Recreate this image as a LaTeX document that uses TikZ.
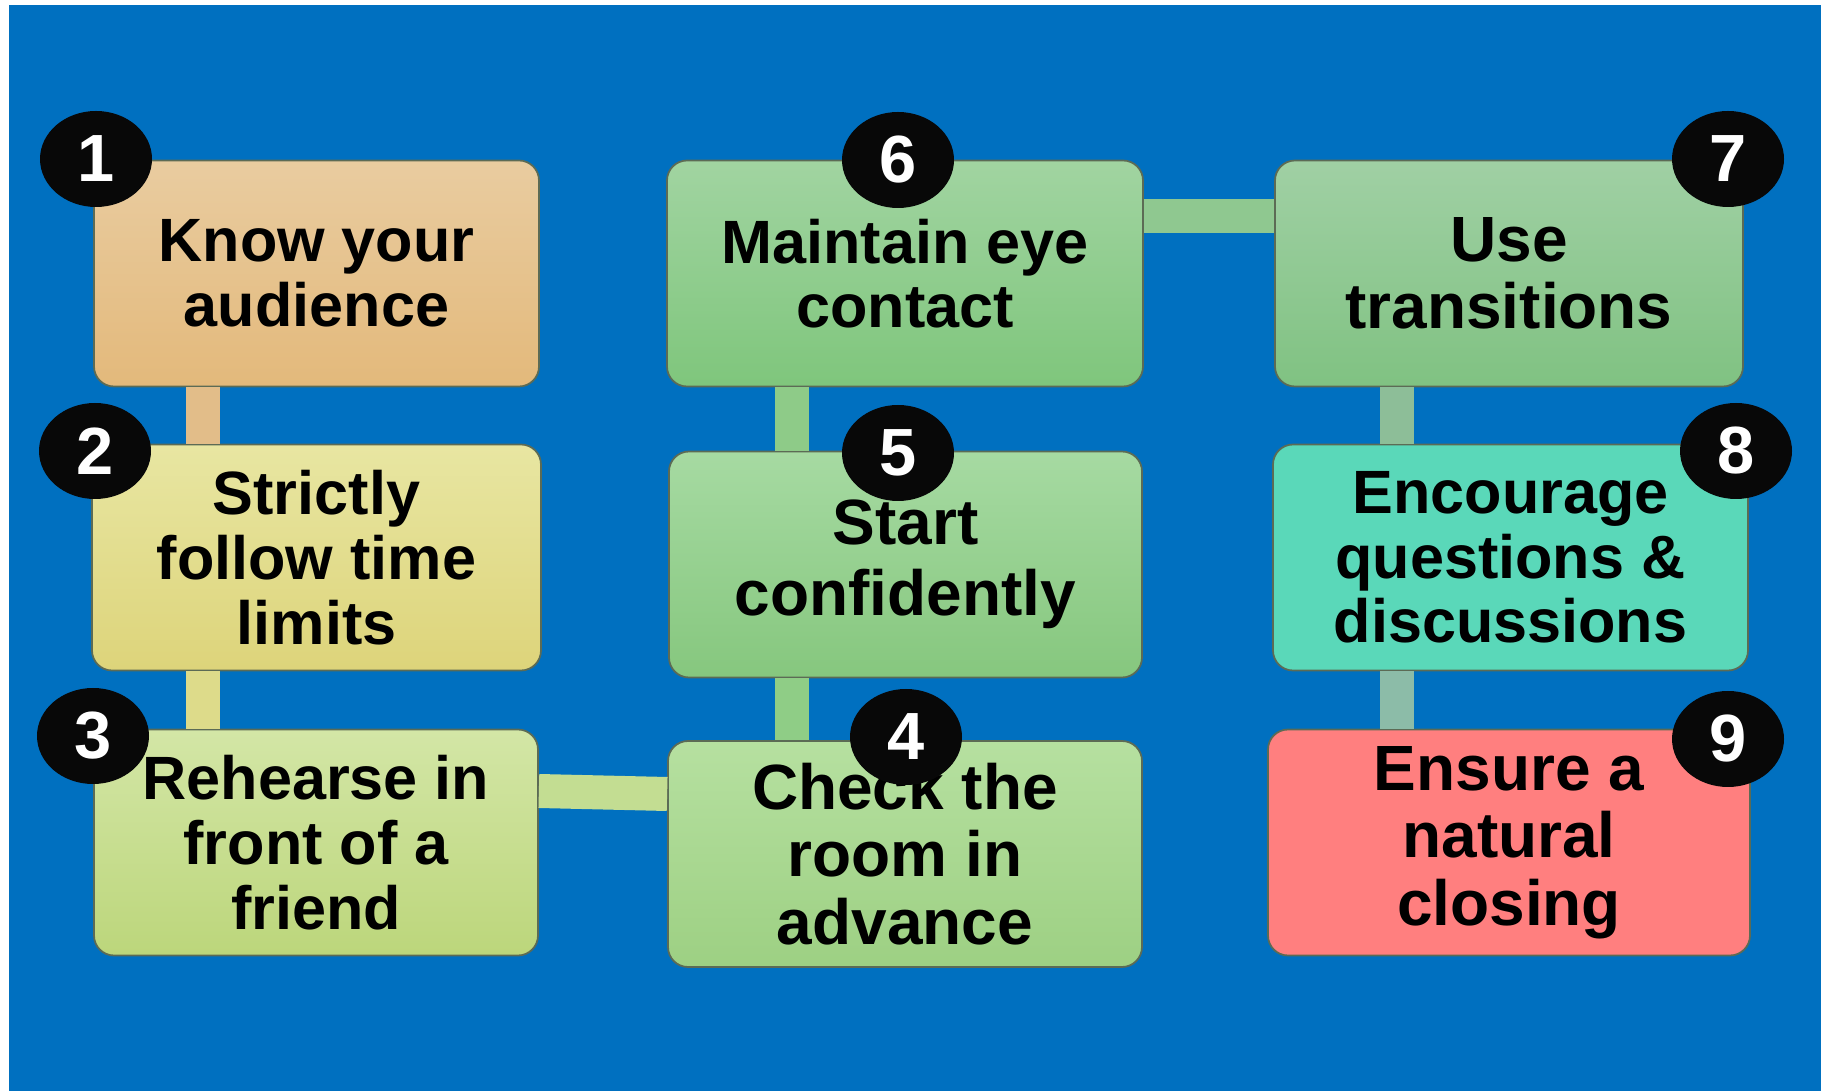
\documentclass[tikz,border=0pt]{standalone}
\usepackage{fontspec}
\setmainfont{Liberation Sans}
\usetikzlibrary{shapes.geometric, calc}
\definecolor{slidebg}{HTML}{0070C0}
\definecolor{badgecol}{HTML}{080808}
\definecolor{edgecol}{HTML}{5C6B55}
\definecolor{onetop}{HTML}{E9CCA0}
\definecolor{onebot}{HTML}{E3B97B}
\definecolor{twotop}{HTML}{E8E6A2}
\definecolor{twobot}{HTML}{DDD47A}
\definecolor{threetop}{HTML}{D3E6A6}
\definecolor{threebot}{HTML}{BCD67B}
\definecolor{fourtop}{HTML}{B6E0A0}
\definecolor{fourbot}{HTML}{9DD083}
\definecolor{fivetop}{HTML}{A6DAA2}
\definecolor{fivebot}{HTML}{86C77E}
\definecolor{sixtop}{HTML}{A1D4A1}
\definecolor{sixbot}{HTML}{7FC67C}
\definecolor{seventop}{HTML}{A0D0A4}
\definecolor{sevenbot}{HTML}{80C282}
\definecolor{eightcol}{HTML}{5AD8B9}
\definecolor{ninecol}{HTML}{FF7F7F}
\tikzset{
  tipbox/.style={rounded corners=0.2cm, draw=edgecol, line width=0.5pt,
    align=center, inner sep=0pt, minimum height=2.26cm,
    font=\fontsize{17.4}{18.4}\selectfont\bfseries},
  bigtext/.style={font=\fontsize{18.2}{19.2}\selectfont\bfseries},
  numbadge/.style={ellipse, fill=badgecol, minimum width=1.12cm,
    minimum height=0.96cm, inner sep=0pt, text=white,
    font=\fontsize{19}{19}\selectfont\bfseries},
  link/.style={line width=0.34cm}
}

\begin{document}
\begin{tikzpicture}

\useasboundingbox (0,0) rectangle (18.21,10.91);
\fill[white] (0,0) rectangle (18.21,10.91);
\fill[slidebg] (0.09,0) rectangle (18.21,10.86);

% Left column
\node[tipbox, minimum width=4.45cm, top color=onetop, bottom color=onebot]
  (tip1) at (3.165,8.175) {Know your\\audience};
\node[tipbox, minimum width=4.49cm, top color=twotop, bottom color=twobot]
  (tip2) at (3.165,5.335) {Strictly\\follow time\\limits};
\node[tipbox, minimum width=4.44cm, top color=threetop, bottom color=threebot]
  (tip3) at (3.16,2.485) {Rehearse in\\front of a\\friend};

% Middle column
\node[tipbox, bigtext, minimum width=4.74cm, top color=fourtop, bottom color=fourbot]
  (tip4) at (9.05,2.37) {Check the\\room in\\advance};
\node[tipbox, font=\fontsize{18.2}{20.2}\selectfont\bfseries, minimum width=4.73cm,
  top color=fivetop, bottom color=fivebot]
  (tip5) at (9.055,5.265) {Start\\confidently};
\node[tipbox, minimum width=4.76cm, top color=sixtop, bottom color=sixbot]
  (tip6) at (9.05,8.175) {Maintain eye\\contact};

% Right column
\node[tipbox, bigtext, minimum width=4.68cm, top color=seventop, bottom color=sevenbot]
  (tip7) at (15.09,8.175) {Use\\transitions};
\node[tipbox, minimum width=4.75cm, fill=eightcol]
  (tip8) at (15.105,5.335) {Encourage\\questions \&\\discussions};
\node[tipbox, bigtext, minimum width=4.82cm, fill=ninecol]
  (tip9) at (15.09,2.485) {Ensure a\\natural\\closing};

% Links
\draw[link, color={rgb,255:red,226;green,189;blue,137}]
  ([xshift=-1.135cm]tip1.south) -- ([xshift=-1.135cm]tip2.north);
\draw[link, color={rgb,255:red,221;green,219;blue,138}]
  ([xshift=-1.135cm]tip2.south) -- ([xshift=-1.13cm]tip3.north);
\draw[link, color={rgb,255:red,195;green,221;blue,146}]
  ([yshift=0.515cm]tip3.east) -- ([yshift=0.6cm]tip4.west);
\draw[link, color={rgb,255:red,143;green,205;blue,134}]
  ([xshift=-1.13cm]tip4.north) -- ([xshift=-1.135cm]tip5.south);
\draw[link, color={rgb,255:red,142;green,203;blue,136}]
  ([xshift=-1.135cm]tip5.north) -- ([xshift=-1.13cm]tip6.south);
\draw[link, color={rgb,255:red,143;green,200;blue,144}]
  ([yshift=0.575cm]tip6.east) -- ([yshift=0.575cm]tip7.west);
\draw[link, color={rgb,255:red,141;green,190;blue,152}]
  ([xshift=-1.12cm]tip7.south) -- ([xshift=-1.135cm]tip8.north);
\draw[link, color={rgb,255:red,140;green,188;blue,168}]
  ([xshift=-1.135cm]tip8.south) -- ([xshift=-1.12cm]tip9.north);

% Number badges
\node[numbadge] (num1) at (0.96,9.32) {1};
\node[numbadge] (num2) at (0.95,6.40) {2};
\node[numbadge] (num3) at (0.93,3.55) {3};
\node[numbadge] (num4) at (9.06,3.54) {4};
\node[numbadge] (num5) at (8.98,6.38) {5};
\node[numbadge] (num6) at (8.98,9.31) {6};
\node[numbadge] (num7) at (17.28,9.32) {7};
\node[numbadge] (num8) at (17.36,6.40) {8};
\node[numbadge] (num9) at (17.28,3.52) {9};

\end{tikzpicture}
\end{document}
